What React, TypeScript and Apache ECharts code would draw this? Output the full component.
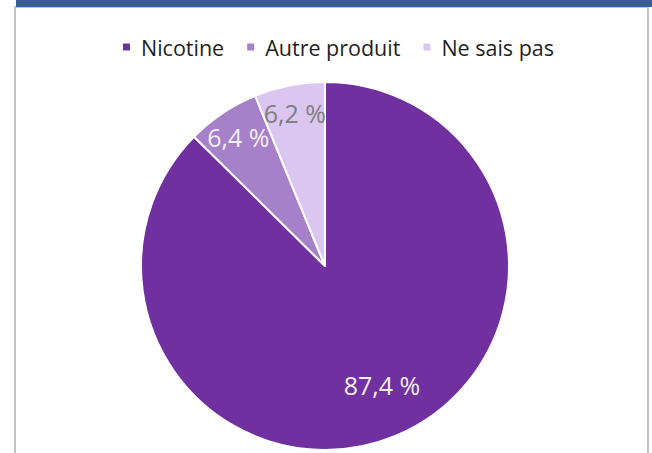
import React, { useEffect, useRef } from "react";
import * as echarts from "echarts";

const categories = ["Nicotine", "Autre produit", "Ne sais pas"];
const values = [87.4, 6.4, 6.2];
const sliceColors = ["#7030a0", "#a680c8", "#dac6f0"];
const labelColors = ["#f4eefa", "#f4eefa", "#7f7f7f"];

const fmt = (v: number) => v.toFixed(1).replace(".", ",") + " %";

export default function App() {
  const ref = useRef<HTMLDivElement>(null);
  useEffect(() => {
    if (!ref.current) return;
    const chart = echarts.init(ref.current, null, { renderer: "svg" });
    const font = "'Open Sans', 'Noto Sans', sans-serif";
    chart.setOption({
      animation: false,
      backgroundColor: "#ffffff",
      color: sliceColors,
      graphic: [
        {
          type: "rect",
          shape: { x: 15, y: 7, width: 633, height: 470 },
          style: { fill: "#ffffff", stroke: "#c3c3c3", lineWidth: 2 },
          z: -10,
        },
        {
          type: "rect",
          shape: { x: 16, y: 0, width: 636, height: 7 },
          style: { fill: "#385f94" },
          z: -9,
        },
      ],
      legend: {
        left: 116,
        top: 31,
        itemWidth: 9,
        itemHeight: 9,
        itemGap: 21,
        icon: "rect",
        selectedMode: false,
        data: categories,
        textStyle: {
          fontFamily: font,
          fontSize: 21.5,
          color: "#1f1f1f",
          padding: [0, 0, 0, 5],
        },
      },
      series: [
        {
          type: "pie",
          center: [325, 266],
          radius: 184,
          startAngle: 90,
          clockwise: true,
          silent: true,
          label: { show: false },
          labelLine: { show: false },
          itemStyle: { borderColor: "#ffffff", borderWidth: 2 },
          data: categories.map((c, i) => ({
            name: c,
            value: values[i],
            itemStyle: { color: sliceColors[i] },
          })),
        },
        {
          type: "pie",
          center: [325, 266],
          radius: [121, 184],
          startAngle: 90,
          clockwise: true,
          silent: true,
          z: 5,
          itemStyle: { color: "rgba(0,0,0,0)", borderWidth: 0 },
          labelLine: { show: false },
          label: {
            show: true,
            position: "inside",
            fontFamily: font,
            fontSize: 25,
            formatter: (p: any) => fmt(p.value),
          },
          labelLayout: (p: any) =>
            p.dataIndex === 0 ? { dx: -3, dy: -24 } : {},
          data: categories.map((c, i) => ({
            name: c,
            value: values[i],
            label: { color: labelColors[i] },
          })),
        },
      ],
    });
    return () => chart.dispose();
  }, []);
  return (
    <div
      ref={ref}
      style={{ position: "fixed", left: 0, top: 0, width: 652, height: 453 }}
    />
  );
}
